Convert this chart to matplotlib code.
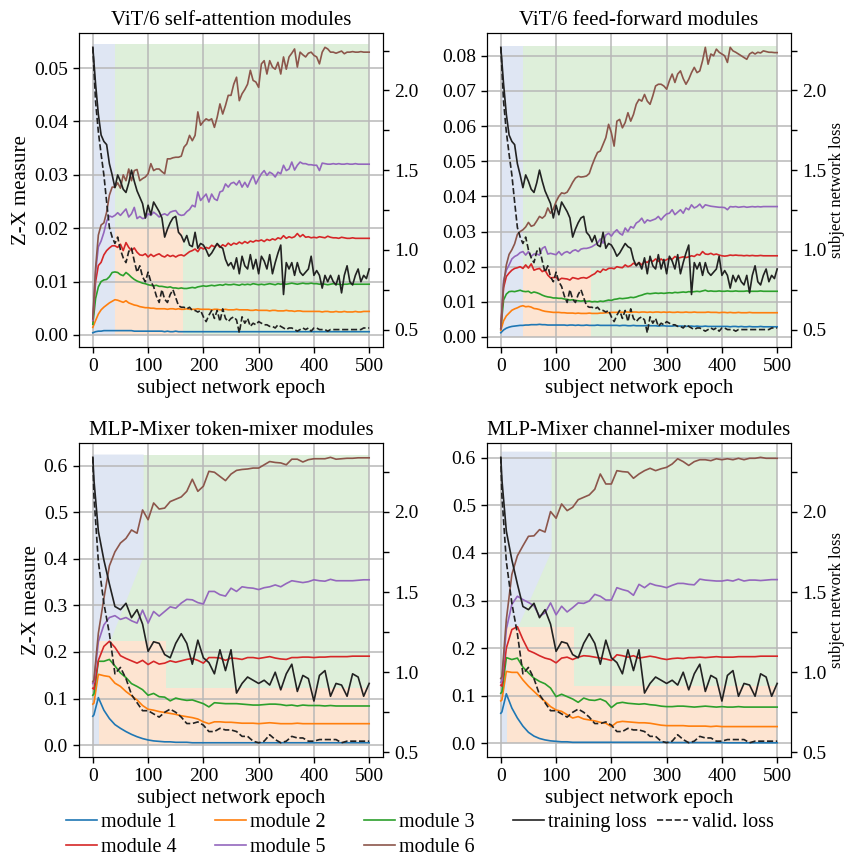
import numpy as np
import matplotlib
matplotlib.use('Agg')
import matplotlib.pyplot as plt
from matplotlib.ticker import MultipleLocator, FormatStrFormatter
from matplotlib.lines import Line2D

plt.rcParams['font.family'] = 'serif'
plt.rcParams['font.serif'] = ['Liberation Serif', 'DejaVu Serif']

# epochs at which the measures were logged
vit_epochs = np.arange(0, 501, 5)
mixer_epochs = np.array([0, 2] + list(range(10, 501, 10)))

# ---- ViT/6 subject network loss (shared by both ViT panels) ----
vit_train_loss = [
    2.27,
    2.04, 1.85, 1.72, 1.68, 1.66, 1.54, 1.47, 1.39, 1.47, 1.43, 1.38, 1.36, 1.42, 1.50, 1.43, 1.37, 1.33, 1.29, 1.20, 1.28,
    1.22, 1.30, 1.27, 1.24, 1.20, 1.08, 1.13, 1.17, 1.20, 1.21, 1.11, 1.09, 1.05, 1.09, 1.03, 1.02, 1.11, 1.01, 1.04, 1.03,
    1.00, 0.96, 0.98, 1.01, 1.04, 1.02, 1.01, 0.94, 0.90, 0.92, 0.88, 0.95, 0.85, 0.96, 0.90, 0.88, 0.97, 0.88, 0.94, 0.85,
    0.96, 0.93, 0.88, 0.97, 0.85, 0.92, 0.98, 1.03, 0.72, 0.92, 0.88, 0.92, 0.84, 0.92, 0.86, 0.84, 0.86, 0.88, 0.96, 0.84,
    0.87, 0.84, 0.76, 0.84, 0.80, 0.84, 0.80, 0.78, 0.84, 0.73, 0.84, 0.90, 0.80, 0.78, 0.84, 0.88, 0.80, 0.84, 0.82, 0.88,
]
vit_valid_loss = [
    2.27,
    1.93, 1.74, 1.60, 1.47, 1.30, 1.14, 1.08, 1.04, 1.08, 1.00, 0.95, 0.92, 0.99, 1.01, 0.93, 0.86, 0.90, 0.83, 0.80, 0.86,
    0.80, 0.77, 0.71, 0.67, 0.75, 0.69, 0.67, 0.72, 0.75, 0.70, 0.65, 0.64, 0.64, 0.63, 0.64, 0.62, 0.62, 0.61, 0.62, 0.58,
    0.55, 0.59, 0.62, 0.57, 0.62, 0.55, 0.63, 0.57, 0.55, 0.57, 0.58, 0.56, 0.48, 0.58, 0.54, 0.57, 0.52, 0.54, 0.53, 0.55,
    0.54, 0.53, 0.53, 0.52, 0.52, 0.51, 0.53, 0.52, 0.51, 0.50, 0.51, 0.51, 0.50, 0.49, 0.50, 0.51, 0.50, 0.51, 0.49, 0.51,
    0.51, 0.50, 0.50, 0.50, 0.49, 0.50, 0.50, 0.50, 0.50, 0.50, 0.50, 0.50, 0.50, 0.50, 0.50, 0.50, 0.50, 0.51, 0.51, 0.51,
]

# ---- ViT/6 self-attention modules ----
sa_m1 = [
    0.0004,
    0.0006, 0.0007, 0.0007, 0.0008, 0.0008, 0.0008, 0.0008, 0.0008, 0.0008, 0.0008, 0.0008, 0.0008, 0.0008, 0.0008, 0.0007, 0.0007, 0.0007, 0.0007, 0.0007, 0.0007,
    0.0007, 0.0007, 0.0007, 0.0007, 0.0007, 0.0006, 0.0007, 0.0006, 0.0006, 0.0007, 0.0006, 0.0006, 0.0006, 0.0006, 0.0006, 0.0006, 0.0006, 0.0006, 0.0006, 0.0006,
    0.0006, 0.0006, 0.0006, 0.0006, 0.0006, 0.0006, 0.0006, 0.0006, 0.0006, 0.0006, 0.0006, 0.0006, 0.0006, 0.0006, 0.0006, 0.0006, 0.0006, 0.0006, 0.0006, 0.0006,
    0.0006, 0.0006, 0.0006, 0.0006, 0.0006, 0.0006, 0.0006, 0.0006, 0.0006, 0.0006, 0.0006, 0.0006, 0.0006, 0.0006, 0.0006, 0.0006, 0.0006, 0.0006, 0.0006, 0.0006,
    0.0006, 0.0006, 0.0006, 0.0006, 0.0006, 0.0006, 0.0006, 0.0006, 0.0006, 0.0006, 0.0006, 0.0006, 0.0006, 0.0006, 0.0006, 0.0006, 0.0006, 0.0006, 0.0006, 0.0006,
]
sa_m2 = [
    0.0014,
    0.0027, 0.0039, 0.0047, 0.0052, 0.0056, 0.0060, 0.0063, 0.0066, 0.0065, 0.0063, 0.0061, 0.0064, 0.0060, 0.0058, 0.0056, 0.0055, 0.0053, 0.0052, 0.0051, 0.0051,
    0.0050, 0.0050, 0.0049, 0.0049, 0.0049, 0.0049, 0.0048, 0.0049, 0.0049, 0.0048, 0.0049, 0.0048, 0.0048, 0.0049, 0.0048, 0.0048, 0.0048, 0.0049, 0.0048, 0.0048,
    0.0048, 0.0048, 0.0047, 0.0048, 0.0048, 0.0047, 0.0047, 0.0048, 0.0047, 0.0047, 0.0047, 0.0048, 0.0047, 0.0047, 0.0047, 0.0047, 0.0046, 0.0046, 0.0047, 0.0046,
    0.0046, 0.0046, 0.0046, 0.0045, 0.0046, 0.0046, 0.0045, 0.0045, 0.0045, 0.0046, 0.0045, 0.0045, 0.0044, 0.0045, 0.0045, 0.0044, 0.0044, 0.0044, 0.0044, 0.0044,
    0.0044, 0.0044, 0.0043, 0.0044, 0.0044, 0.0043, 0.0043, 0.0044, 0.0043, 0.0043, 0.0044, 0.0043, 0.0043, 0.0043, 0.0044, 0.0043, 0.0043, 0.0044, 0.0044, 0.0044,
]
sa_m3 = [
    0.0020,
    0.0068, 0.0090, 0.0100, 0.0103, 0.0104, 0.0109, 0.0117, 0.0118, 0.0117, 0.0113, 0.0111, 0.0117, 0.0113, 0.0108, 0.0104, 0.0101, 0.0099, 0.0097, 0.0096, 0.0094,
    0.0093, 0.0092, 0.0093, 0.0091, 0.0091, 0.0090, 0.0089, 0.0090, 0.0088, 0.0088, 0.0087, 0.0088, 0.0087, 0.0087, 0.0088, 0.0089, 0.0088, 0.0090, 0.0091, 0.0092,
    0.0091, 0.0092, 0.0093, 0.0092, 0.0093, 0.0094, 0.0093, 0.0095, 0.0094, 0.0094, 0.0095, 0.0094, 0.0093, 0.0095, 0.0094, 0.0095, 0.0094, 0.0096, 0.0095, 0.0094,
    0.0095, 0.0094, 0.0095, 0.0096, 0.0095, 0.0094, 0.0096, 0.0095, 0.0096, 0.0095, 0.0096, 0.0097, 0.0096, 0.0095, 0.0096, 0.0097, 0.0096, 0.0096, 0.0097, 0.0096,
    0.0096, 0.0095, 0.0096, 0.0095, 0.0094, 0.0095, 0.0096, 0.0095, 0.0095, 0.0094, 0.0095, 0.0095, 0.0096, 0.0095, 0.0095, 0.0095, 0.0095, 0.0095, 0.0095, 0.0095,
]
sa_m4 = [
    0.0027,
    0.0100, 0.0130, 0.0136, 0.0150, 0.0158, 0.0163, 0.0167, 0.0167, 0.0164, 0.0170, 0.0158, 0.0173, 0.0164, 0.0158, 0.0163, 0.0155, 0.0150, 0.0149, 0.0152, 0.0146,
    0.0151, 0.0147, 0.0150, 0.0152, 0.0148, 0.0146, 0.0150, 0.0147, 0.0149, 0.0146, 0.0149, 0.0150, 0.0148, 0.0152, 0.0156, 0.0158, 0.0161, 0.0156, 0.0164, 0.0161,
    0.0164, 0.0162, 0.0168, 0.0165, 0.0170, 0.0164, 0.0169, 0.0166, 0.0172, 0.0168, 0.0172, 0.0170, 0.0174, 0.0171, 0.0175, 0.0172, 0.0176, 0.0174, 0.0177, 0.0176,
    0.0178, 0.0175, 0.0179, 0.0177, 0.0180, 0.0178, 0.0182, 0.0180, 0.0186, 0.0181, 0.0184, 0.0182, 0.0184, 0.0190, 0.0184, 0.0188, 0.0183, 0.0184, 0.0182, 0.0183,
    0.0182, 0.0184, 0.0183, 0.0182, 0.0185, 0.0183, 0.0182, 0.0182, 0.0181, 0.0183, 0.0182, 0.0181, 0.0181, 0.0182, 0.0181, 0.0181, 0.0181, 0.0181, 0.0181, 0.0181,
]
sa_m5 = [
    0.0027,
    0.0118, 0.0165, 0.0176, 0.0192, 0.0213, 0.0223, 0.0221, 0.0224, 0.0229, 0.0224, 0.0230, 0.0236, 0.0221, 0.0227, 0.0239, 0.0218, 0.0222, 0.0218, 0.0219, 0.0227,
    0.0224, 0.0230, 0.0226, 0.0221, 0.0225, 0.0227, 0.0224, 0.0230, 0.0232, 0.0233, 0.0226, 0.0224, 0.0225, 0.0231, 0.0235, 0.0243, 0.0240, 0.0268, 0.0252, 0.0258,
    0.0264, 0.0249, 0.0264, 0.0255, 0.0252, 0.0268, 0.0270, 0.0283, 0.0277, 0.0284, 0.0286, 0.0281, 0.0289, 0.0277, 0.0286, 0.0277, 0.0289, 0.0299, 0.0283, 0.0293,
    0.0302, 0.0308, 0.0299, 0.0305, 0.0302, 0.0296, 0.0305, 0.0302, 0.0318, 0.0308, 0.0311, 0.0324, 0.0309, 0.0318, 0.0324, 0.0321, 0.0321, 0.0319, 0.0319, 0.0318,
    0.0318, 0.0308, 0.0322, 0.0321, 0.0320, 0.0320, 0.0321, 0.0320, 0.0321, 0.0320, 0.0320, 0.0321, 0.0320, 0.0320, 0.0321, 0.0320, 0.0320, 0.0320, 0.0320, 0.0320,
]
sa_m6 = [
    0.0030,
    0.0125, 0.0187, 0.0206, 0.0210, 0.0230, 0.0262, 0.0277, 0.0277, 0.0285, 0.0275, 0.0300, 0.0289, 0.0311, 0.0289, 0.0308, 0.0310, 0.0289, 0.0293, 0.0296, 0.0302,
    0.0321, 0.0308, 0.0311, 0.0311, 0.0306, 0.0302, 0.0330, 0.0330, 0.0332, 0.0333, 0.0333, 0.0335, 0.0352, 0.0358, 0.0374, 0.0364, 0.0374, 0.0418, 0.0393, 0.0400,
    0.0405, 0.0402, 0.0405, 0.0389, 0.0408, 0.0433, 0.0414, 0.0430, 0.0449, 0.0449, 0.0470, 0.0483, 0.0439, 0.0452, 0.0460, 0.0470, 0.0496, 0.0477, 0.0474, 0.0464,
    0.0508, 0.0514, 0.0489, 0.0514, 0.0502, 0.0498, 0.0511, 0.0489, 0.0521, 0.0498, 0.0521, 0.0528, 0.0536, 0.0502, 0.0530, 0.0525, 0.0521, 0.0528, 0.0530, 0.0524,
    0.0521, 0.0508, 0.0530, 0.0539, 0.0536, 0.0530, 0.0530, 0.0528, 0.0530, 0.0532, 0.0527, 0.0530, 0.0530, 0.0531, 0.0530, 0.0530, 0.0531, 0.0530, 0.0530, 0.0530,
]

# ---- ViT/6 feed-forward modules ----
ff_m1 = [
    0.0012,
    0.0020, 0.0025, 0.0028, 0.0030, 0.0031, 0.0032, 0.0033, 0.0033, 0.0034, 0.0034, 0.0035, 0.0035, 0.0035, 0.0036, 0.0035, 0.0035, 0.0034, 0.0034, 0.0034, 0.0034,
    0.0034, 0.0034, 0.0034, 0.0033, 0.0034, 0.0034, 0.0033, 0.0034, 0.0033, 0.0033, 0.0034, 0.0033, 0.0033, 0.0033, 0.0034, 0.0033, 0.0033, 0.0033, 0.0033, 0.0033,
    0.0033, 0.0033, 0.0032, 0.0033, 0.0033, 0.0032, 0.0032, 0.0033, 0.0032, 0.0032, 0.0032, 0.0032, 0.0033, 0.0032, 0.0032, 0.0032, 0.0031, 0.0032, 0.0032, 0.0031,
    0.0031, 0.0031, 0.0032, 0.0031, 0.0031, 0.0031, 0.0030, 0.0031, 0.0031, 0.0030, 0.0031, 0.0030, 0.0030, 0.0031, 0.0030, 0.0030, 0.0030, 0.0030, 0.0030, 0.0030,
    0.0030, 0.0030, 0.0029, 0.0030, 0.0030, 0.0029, 0.0030, 0.0029, 0.0029, 0.0030, 0.0029, 0.0029, 0.0029, 0.0030, 0.0029, 0.0029, 0.0029, 0.0029, 0.0029, 0.0029,
]
ff_m2 = [
    0.0019,
    0.0046, 0.0060, 0.0068, 0.0076, 0.0080, 0.0083, 0.0087, 0.0089, 0.0086, 0.0087, 0.0085, 0.0081, 0.0080, 0.0078, 0.0075, 0.0073, 0.0072, 0.0071, 0.0070, 0.0070,
    0.0070, 0.0069, 0.0069, 0.0068, 0.0068, 0.0068, 0.0067, 0.0068, 0.0067, 0.0067, 0.0067, 0.0068, 0.0067, 0.0067, 0.0067, 0.0068, 0.0068, 0.0069, 0.0069, 0.0070,
    0.0070, 0.0070, 0.0071, 0.0070, 0.0071, 0.0071, 0.0070, 0.0071, 0.0071, 0.0070, 0.0071, 0.0071, 0.0070, 0.0071, 0.0070, 0.0071, 0.0071, 0.0070, 0.0071, 0.0070,
    0.0071, 0.0070, 0.0070, 0.0071, 0.0070, 0.0070, 0.0071, 0.0070, 0.0070, 0.0071, 0.0070, 0.0070, 0.0070, 0.0070, 0.0071, 0.0070, 0.0070, 0.0070, 0.0069, 0.0070,
    0.0070, 0.0069, 0.0070, 0.0069, 0.0069, 0.0070, 0.0069, 0.0069, 0.0069, 0.0070, 0.0069, 0.0069, 0.0069, 0.0069, 0.0069, 0.0069, 0.0069, 0.0069, 0.0069, 0.0069,
]
ff_m3 = [
    0.0024,
    0.0105, 0.0122, 0.0129, 0.0130, 0.0129, 0.0131, 0.0133, 0.0130, 0.0129, 0.0130, 0.0125, 0.0128, 0.0126, 0.0123, 0.0119, 0.0116, 0.0114, 0.0113, 0.0111, 0.0111,
    0.0110, 0.0110, 0.0108, 0.0107, 0.0105, 0.0106, 0.0104, 0.0103, 0.0102, 0.0103, 0.0101, 0.0102, 0.0100, 0.0101, 0.0100, 0.0102, 0.0101, 0.0103, 0.0105, 0.0104,
    0.0107, 0.0108, 0.0110, 0.0109, 0.0110, 0.0111, 0.0113, 0.0112, 0.0114, 0.0117, 0.0119, 0.0122, 0.0124, 0.0123, 0.0124, 0.0125, 0.0124, 0.0125, 0.0124, 0.0125,
    0.0126, 0.0125, 0.0127, 0.0126, 0.0127, 0.0128, 0.0127, 0.0129, 0.0128, 0.0129, 0.0130, 0.0129, 0.0131, 0.0133, 0.0130, 0.0131, 0.0130, 0.0130, 0.0131, 0.0130,
    0.0130, 0.0131, 0.0130, 0.0130, 0.0131, 0.0130, 0.0130, 0.0130, 0.0131, 0.0130, 0.0130, 0.0130, 0.0130, 0.0131, 0.0130, 0.0130, 0.0130, 0.0130, 0.0130, 0.0130,
]
ff_m4 = [
    0.0024,
    0.0140, 0.0172, 0.0182, 0.0190, 0.0195, 0.0197, 0.0200, 0.0195, 0.0205, 0.0196, 0.0208, 0.0190, 0.0193, 0.0195, 0.0186, 0.0190, 0.0176, 0.0168, 0.0169, 0.0170,
    0.0162, 0.0167, 0.0166, 0.0165, 0.0162, 0.0169, 0.0167, 0.0165, 0.0168, 0.0169, 0.0167, 0.0171, 0.0176, 0.0180, 0.0188, 0.0184, 0.0193, 0.0190, 0.0195, 0.0196,
    0.0194, 0.0200, 0.0198, 0.0197, 0.0205, 0.0200, 0.0203, 0.0210, 0.0205, 0.0212, 0.0205, 0.0215, 0.0212, 0.0219, 0.0215, 0.0222, 0.0215, 0.0222, 0.0216, 0.0220,
    0.0224, 0.0221, 0.0229, 0.0224, 0.0226, 0.0228, 0.0226, 0.0228, 0.0231, 0.0229, 0.0235, 0.0233, 0.0243, 0.0236, 0.0235, 0.0238, 0.0234, 0.0236, 0.0233, 0.0231,
    0.0230, 0.0231, 0.0233, 0.0232, 0.0233, 0.0232, 0.0232, 0.0231, 0.0232, 0.0231, 0.0232, 0.0231, 0.0231, 0.0232, 0.0231, 0.0231, 0.0231, 0.0231, 0.0231, 0.0231,
]
ff_m5 = [
    0.0024,
    0.0160, 0.0190, 0.0205, 0.0222, 0.0229, 0.0233, 0.0240, 0.0243, 0.0233, 0.0243, 0.0229, 0.0236, 0.0236, 0.0233, 0.0252, 0.0257, 0.0236, 0.0238, 0.0236, 0.0234,
    0.0243, 0.0233, 0.0240, 0.0243, 0.0238, 0.0245, 0.0248, 0.0243, 0.0250, 0.0252, 0.0252, 0.0254, 0.0257, 0.0262, 0.0267, 0.0279, 0.0267, 0.0290, 0.0295, 0.0287,
    0.0298, 0.0305, 0.0295, 0.0290, 0.0310, 0.0300, 0.0314, 0.0310, 0.0324, 0.0329, 0.0338, 0.0324, 0.0333, 0.0330, 0.0333, 0.0336, 0.0343, 0.0333, 0.0343, 0.0350,
    0.0352, 0.0362, 0.0348, 0.0355, 0.0362, 0.0352, 0.0367, 0.0362, 0.0376, 0.0367, 0.0371, 0.0378, 0.0367, 0.0376, 0.0374, 0.0372, 0.0371, 0.0370, 0.0369, 0.0369,
    0.0368, 0.0362, 0.0371, 0.0370, 0.0371, 0.0369, 0.0370, 0.0371, 0.0369, 0.0370, 0.0371, 0.0370, 0.0371, 0.0370, 0.0371, 0.0371, 0.0371, 0.0371, 0.0371, 0.0371,
]
ff_m6 = [
    0.0024,
    0.0150, 0.0205, 0.0235, 0.0248, 0.0265, 0.0292, 0.0300, 0.0305, 0.0313, 0.0326, 0.0315, 0.0318, 0.0330, 0.0343, 0.0338, 0.0345, 0.0367, 0.0352, 0.0364, 0.0385,
    0.0400, 0.0410, 0.0408, 0.0412, 0.0425, 0.0440, 0.0452, 0.0457, 0.0455, 0.0456, 0.0458, 0.0465, 0.0488, 0.0508, 0.0525, 0.0529, 0.0548, 0.0567, 0.0605, 0.0581,
    0.0543, 0.0614, 0.0619, 0.0595, 0.0610, 0.0638, 0.0614, 0.0633, 0.0662, 0.0676, 0.0671, 0.0690, 0.0671, 0.0662, 0.0686, 0.0714, 0.0719, 0.0719, 0.0714, 0.0705,
    0.0729, 0.0748, 0.0724, 0.0748, 0.0757, 0.0735, 0.0719, 0.0733, 0.0752, 0.0767, 0.0752, 0.0757, 0.0786, 0.0824, 0.0776, 0.0805, 0.0800, 0.0819, 0.0810, 0.0805,
    0.0800, 0.0781, 0.0824, 0.0814, 0.0810, 0.0805, 0.0800, 0.0795, 0.0790, 0.0805, 0.0810, 0.0805, 0.0810, 0.0808, 0.0814, 0.0812, 0.0810, 0.0810, 0.0809, 0.0809,
]

# ---- MLP-Mixer subject network loss (shared by both Mixer panels) ----
mixer_train_loss = [
    2.34, 2.20,
    1.88, 1.70, 1.55, 1.41, 1.39, 1.43, 1.34, 1.39, 1.30, 1.13,
    1.19, 1.18, 1.11, 1.09, 1.18, 1.24, 1.18, 1.05, 1.20, 1.09,
    1.06, 0.99, 1.14, 1.01, 1.14, 0.87, 0.93, 0.97, 0.95, 0.93,
    0.95, 0.92, 1.00, 0.89, 0.99, 1.05, 0.88, 0.98, 0.96, 0.82,
    0.98, 1.01, 0.85, 0.93, 0.92, 0.85, 0.99, 0.97, 0.85, 0.93,
]
mixer_valid_loss = [
    2.34, 2.10,
    1.69, 1.43, 1.24, 0.99, 1.03, 0.96, 0.86, 0.81, 0.76, 0.76,
    0.74, 0.72, 0.75, 0.77, 0.75, 0.72, 0.68, 0.68, 0.69, 0.67,
    0.63, 0.63, 0.65, 0.64, 0.64, 0.63, 0.60, 0.60, 0.57, 0.56,
    0.57, 0.61, 0.58, 0.56, 0.57, 0.60, 0.59, 0.59, 0.57, 0.57,
    0.58, 0.58, 0.58, 0.58, 0.56, 0.57, 0.57, 0.57, 0.57, 0.57,
]

# ---- MLP-Mixer token-mixer modules ----
tok_m1 = [
    0.062, 0.065,
    0.102, 0.075, 0.057, 0.044, 0.036, 0.029, 0.023, 0.018, 0.014, 0.011,
    0.009, 0.008, 0.007, 0.007, 0.006, 0.006, 0.006, 0.005, 0.005, 0.005,
    0.005, 0.005, 0.005, 0.005, 0.005, 0.005, 0.005, 0.005, 0.005, 0.005,
    0.005, 0.005, 0.005, 0.005, 0.005, 0.005, 0.005, 0.005, 0.005, 0.005,
    0.005, 0.005, 0.005, 0.005, 0.005, 0.005, 0.005, 0.005, 0.005, 0.005,
]
tok_m2 = [
    0.088, 0.090,
    0.152, 0.149, 0.147, 0.133, 0.126, 0.115, 0.106, 0.097, 0.085, 0.077,
    0.075, 0.072, 0.070, 0.068, 0.066, 0.063, 0.061, 0.059, 0.056, 0.050,
    0.046, 0.050, 0.050, 0.049, 0.049, 0.048, 0.047, 0.047, 0.047, 0.046,
    0.047, 0.048, 0.047, 0.046, 0.046, 0.046, 0.047, 0.046, 0.046, 0.046,
    0.046, 0.046, 0.046, 0.046, 0.046, 0.046, 0.046, 0.046, 0.046, 0.046,
]
tok_m3 = [
    0.107, 0.110,
    0.180, 0.180, 0.184, 0.170, 0.155, 0.145, 0.132, 0.126, 0.119, 0.107,
    0.111, 0.104, 0.103, 0.095, 0.101, 0.098, 0.096, 0.097, 0.093, 0.089,
    0.082, 0.091, 0.090, 0.089, 0.089, 0.089, 0.088, 0.087, 0.086, 0.086,
    0.087, 0.088, 0.088, 0.087, 0.085, 0.086, 0.084, 0.086, 0.085, 0.085,
    0.085, 0.084, 0.085, 0.084, 0.084, 0.084, 0.084, 0.084, 0.084, 0.084,
]
tok_m4 = [
    0.122, 0.120,
    0.182, 0.212, 0.223, 0.210, 0.192, 0.186, 0.181, 0.176, 0.182, 0.173,
    0.180, 0.174, 0.176, 0.181, 0.178, 0.181, 0.184, 0.186, 0.182, 0.176,
    0.188, 0.188, 0.187, 0.182, 0.187, 0.186, 0.184, 0.188, 0.188, 0.186,
    0.188, 0.190, 0.187, 0.185, 0.184, 0.188, 0.188, 0.189, 0.189, 0.188,
    0.189, 0.189, 0.190, 0.190, 0.190, 0.190, 0.191, 0.191, 0.191, 0.191,
]
tok_m5 = [
    0.132, 0.136,
    0.222, 0.258, 0.274, 0.278, 0.270, 0.274, 0.267, 0.262, 0.290, 0.262,
    0.287, 0.277, 0.287, 0.297, 0.294, 0.305, 0.313, 0.312, 0.306, 0.303,
    0.330, 0.330, 0.323, 0.320, 0.337, 0.330, 0.340, 0.338, 0.337, 0.334,
    0.338, 0.340, 0.344, 0.340, 0.347, 0.353, 0.351, 0.349, 0.351, 0.355,
    0.353, 0.352, 0.356, 0.353, 0.353, 0.353, 0.353, 0.354, 0.355, 0.355,
]
tok_m6 = [
    0.136, 0.140,
    0.240, 0.315, 0.385, 0.415, 0.434, 0.444, 0.462, 0.455, 0.505, 0.484,
    0.520, 0.507, 0.509, 0.523, 0.528, 0.533, 0.545, 0.571, 0.545, 0.556,
    0.588, 0.586, 0.577, 0.568, 0.582, 0.590, 0.592, 0.593, 0.595, 0.595,
    0.602, 0.609, 0.607, 0.606, 0.602, 0.614, 0.614, 0.608, 0.613, 0.615,
    0.615, 0.615, 0.618, 0.614, 0.615, 0.616, 0.616, 0.617, 0.617, 0.617,
]

# ---- MLP-Mixer channel-mixer modules ----
ch_m1 = [
    0.063, 0.066,
    0.104, 0.074, 0.053, 0.036, 0.023, 0.015, 0.010, 0.007, 0.005, 0.004,
    0.003, 0.003, 0.002, 0.002, 0.002, 0.002, 0.002, 0.002, 0.002, 0.002,
    0.002, 0.002, 0.002, 0.002, 0.002, 0.002, 0.002, 0.002, 0.002, 0.002,
    0.0015, 0.0015, 0.0015, 0.0015, 0.0015, 0.0015, 0.0015, 0.0015, 0.0015, 0.0015,
    0.001, 0.001, 0.001, 0.001, 0.001, 0.001, 0.001, 0.001, 0.001, 0.001,
]
ch_m2 = [
    0.089, 0.091,
    0.151, 0.149, 0.149, 0.133, 0.120, 0.109, 0.098, 0.088, 0.077, 0.070,
    0.067, 0.060, 0.053, 0.056, 0.051, 0.049, 0.047, 0.044, 0.042, 0.035,
    0.044, 0.046, 0.045, 0.044, 0.043, 0.043, 0.042, 0.040, 0.038, 0.037,
    0.037, 0.037, 0.037, 0.036, 0.036, 0.036, 0.036, 0.035, 0.036, 0.035,
    0.035, 0.035, 0.035, 0.035, 0.035, 0.035, 0.035, 0.035, 0.035, 0.035,
]
ch_m3 = [
    0.105, 0.108,
    0.180, 0.176, 0.179, 0.160, 0.148, 0.137, 0.130, 0.125, 0.116, 0.098,
    0.103, 0.098, 0.093, 0.086, 0.095, 0.091, 0.090, 0.093, 0.088, 0.075,
    0.084, 0.086, 0.084, 0.083, 0.082, 0.083, 0.081, 0.080, 0.078, 0.077,
    0.077, 0.078, 0.078, 0.077, 0.076, 0.077, 0.078, 0.077, 0.076, 0.077,
    0.076, 0.076, 0.077, 0.076, 0.076, 0.076, 0.076, 0.076, 0.076, 0.076,
]
ch_m4 = [
    0.122, 0.120,
    0.200, 0.239, 0.245, 0.218, 0.195, 0.190, 0.184, 0.179, 0.176, 0.169,
    0.179, 0.181, 0.176, 0.181, 0.184, 0.183, 0.181, 0.179, 0.177, 0.174,
    0.186, 0.184, 0.181, 0.184, 0.179, 0.181, 0.183, 0.181, 0.178, 0.176,
    0.178, 0.179, 0.178, 0.180, 0.180, 0.181, 0.180, 0.181, 0.182, 0.181,
    0.181, 0.181, 0.182, 0.182, 0.182, 0.182, 0.183, 0.183, 0.183, 0.183,
]
ch_m5 = [
    0.128, 0.132,
    0.240, 0.292, 0.309, 0.302, 0.296, 0.289, 0.267, 0.274, 0.295, 0.270,
    0.288, 0.276, 0.285, 0.295, 0.294, 0.299, 0.313, 0.309, 0.301, 0.301,
    0.327, 0.323, 0.320, 0.311, 0.334, 0.327, 0.336, 0.332, 0.330, 0.327,
    0.332, 0.336, 0.336, 0.334, 0.333, 0.345, 0.343, 0.342, 0.341, 0.341,
    0.343, 0.341, 0.345, 0.341, 0.343, 0.343, 0.342, 0.343, 0.344, 0.344,
]
ch_m6 = [
    0.136, 0.140,
    0.260, 0.355, 0.394, 0.415, 0.435, 0.436, 0.449, 0.444, 0.487, 0.473,
    0.503, 0.489, 0.496, 0.512, 0.517, 0.522, 0.534, 0.566, 0.545, 0.545,
    0.573, 0.571, 0.570, 0.557, 0.566, 0.573, 0.578, 0.573, 0.577, 0.580,
    0.587, 0.598, 0.592, 0.584, 0.592, 0.596, 0.596, 0.594, 0.598, 0.596,
    0.598, 0.596, 0.599, 0.596, 0.599, 0.599, 0.601, 0.599, 0.599, 0.599,
]

# training phase shading per panel (epochs / Z-X levels)
phase_fit_end = [41, 41, 92, 92]          # end of the blue phase at the top
phase_fit_floor = [0.0, 0.0, 0.405, 0.404]  # blue phase lower corner at fit_end
phase_fit_low = [0.0, 0.0, 0.16, 0.19]      # blue boundary where orange begins
phase_comp_start = [41, 41, 11, 11]
phase_comp_end = [164, 164, 133, 133]
phase_comp_level = [0.02, 0.02, 0.224, 0.245]
phase_tail_level = [0.0, 0.0, 0.123, 0.12]
phase_top = [0.0545, 0.0828, 0.624, 0.613]

titles = ['ViT/6 self-attention modules', 'ViT/6 feed-forward modules',
          'MLP-Mixer token-mixer modules', 'MLP-Mixer channel-mixer modules']
module_colors = ['#1f77b4', '#ff7f0e', '#2ca02c', '#d62728', '#9467bd', '#8c564b']
shade_blue, shade_green, shade_orange = '#dfe6f3', '#deefda', '#fde4d1'

panels = [
    (vit_epochs, [sa_m1, sa_m2, sa_m3, sa_m4, sa_m5, sa_m6], vit_train_loss, vit_valid_loss, 0.01, '%.2f'),
    (vit_epochs, [ff_m1, ff_m2, ff_m3, ff_m4, ff_m5, ff_m6], vit_train_loss, vit_valid_loss, 0.01, '%.2f'),
    (mixer_epochs, [tok_m1, tok_m2, tok_m3, tok_m4, tok_m5, tok_m6], mixer_train_loss, mixer_valid_loss, 0.1, '%.1f'),
    (mixer_epochs, [ch_m1, ch_m2, ch_m3, ch_m4, ch_m5, ch_m6], mixer_train_loss, mixer_valid_loss, 0.1, '%.1f'),
]

positions = [[0.0936, 0.596, 0.3602, 0.3655], [0.577, 0.596, 0.3602, 0.3655],
             [0.0936, 0.1187, 0.3602, 0.3655], [0.577, 0.1187, 0.3602, 0.3655]]

fig = plt.figure(figsize=(8.44, 8.59), dpi=100)

for i, (ep, mods, tr, va, ystep, yfmt) in enumerate(panels):
    ax = fig.add_axes(positions[i])
    for m, c in zip(mods, module_colors):
        ax.plot(ep, m, color=c, lw=1.2)
    ylim = ax.get_ylim()

    # phase backgrounds: green everywhere, blue early phase, orange compression band
    top = phase_top[i]
    a, b = phase_comp_start[i], phase_fit_end[i]
    c_end = phase_comp_end[i]
    ax.fill_between([0, 500], 0, top, color=shade_green, lw=0, zorder=0.1)
    ax.fill([0, 0, b, b, a, a], [0, top, top, phase_fit_floor[i], phase_fit_low[i], 0],
            color=shade_blue, lw=0, zorder=0.2)
    ax.fill([a, a, c_end, c_end, 500, 500],
            [0, phase_comp_level[i], phase_comp_level[i], phase_tail_level[i], phase_tail_level[i], 0],
            color=shade_orange, lw=0, zorder=0.3)

    ax.set_ylim(ylim)
    ax.set_xlim(-25, 525)
    ax.set_axisbelow(True)
    ax.grid(True, color='#b8b8b8', lw=1.1)
    ax.xaxis.set_major_locator(MultipleLocator(100))
    ax.yaxis.set_major_locator(MultipleLocator(ystep))
    ax.yaxis.set_major_formatter(FormatStrFormatter(yfmt))
    ax.tick_params(direction='out', length=4.5, width=1, labelsize=14)
    ax.set_title(titles[i], fontsize=15, pad=6)
    ax.set_xlabel('subject network epoch', fontsize=15, labelpad=3)
    if i % 2 == 0:
        ax.set_ylabel('Z-X measure', fontsize=15, labelpad=2)

    ax2 = ax.twinx()
    ax2.plot(ep, tr, color='#222222', lw=1.2)
    ax2.plot(ep, va, color='#222222', lw=1.2, ls='--')
    ax2.yaxis.set_major_locator(MultipleLocator(0.5))
    ax2.yaxis.set_minor_locator(MultipleLocator(0.25))
    ax2.yaxis.set_major_formatter(FormatStrFormatter('%.1f'))
    ax2.tick_params(which='both', direction='out', length=4.5, width=1, labelsize=14)
    if i % 2 == 1:
        ax2.set_ylabel('subject network loss', fontsize=12, labelpad=2)

module_handles = [Line2D([], [], color=c, lw=1.2, label=f'module {k + 1}')
                  for k, c in enumerate(module_colors)]
order = [0, 3, 1, 4, 2, 5]
fig.legend([module_handles[k] for k in order], [module_handles[k].get_label() for k in order],
           loc='upper left', bbox_to_anchor=(0.078, 0.054), ncol=3, frameon=False,
           fontsize=14.5, handlelength=1.55, handletextpad=0.2, columnspacing=1.9,
           labelspacing=0.3, borderpad=0, borderaxespad=0)
loss_handles = [Line2D([], [], color='#222222', lw=1.2, label='training loss'),
                Line2D([], [], color='#222222', lw=1.2, ls='--', label='valid. loss')]
fig.legend(handles=loss_handles, loc='upper left', bbox_to_anchor=(0.608, 0.054), ncol=2,
           frameon=False, fontsize=14.5, handlelength=1.55, handletextpad=0.2,
           columnspacing=0.5, borderpad=0, borderaxespad=0)

fig.savefig('out.png', dpi=100)
